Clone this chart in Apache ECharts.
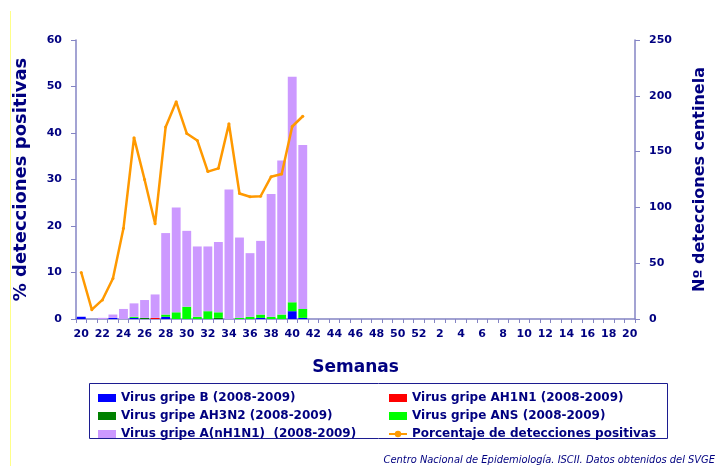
<!DOCTYPE html>
<html>
<head>
<meta charset="utf-8">
<script src="https://cdn.jsdelivr.net/npm/echarts@6/dist/echarts.min.js"></script>
<style>
  html, body { margin: 0; padding: 0; background: #fff; }
  #chart { width: 716px; height: 466px; }
</style>
</head>
<body>
<div id="chart"></div>
<script>
// semanas 20 (2009) .. 20 (2010)
var weeks = ['20','21','22','23','24','25','26','27','28','29','30','31','32','33','34','35','36','37','38','39','40',
  '41','42','43','44','45','46','47','48','49','50','51','52',
  '1','2','3','4','5','6','7','8','9','10','11','12','13','14','15','16','17','18','19','20'];

// nº detecciones centinela, semanas 20..41
var virusB     = [2,0,0,1,0,1,0,0,2,0,0,0,0,0,0,0,0,1,0,0,7,1];
var virusAH1N1 = [0,0,0,0,0,0,0,1,0,0,0,0,0,0,0,0,0,0,0,0,0,0];
var virusAH3N2 = [0,0,0,0,0,0,1,0,0,0,0,0,0,1,0,0,0,0,0,0,0,0];
var virusANS   = [0,0,0,0,0,1,0,0,2,6,11,2,7,5,0,1,2,3,2,4,8,8];
var virusNH1N1 = [0,0,1,3,9,12,16,21,73,94,68,63,58,63,116,72,57,66,110,138,202,147];
// % detecciones positivas
var porcentaje = [10,2,4.1,8.7,19.5,39,30,20.5,41.3,46.7,39.9,38.4,31.7,32.4,42,27,26.3,26.4,30.6,31.2,41.4,43.6];

var navy = '#000080';
var axisCol = '#8484c4';
var font = 'DejaVu Sans';

var chart = echarts.init(document.getElementById('chart'), null, { renderer: 'canvas' });

function barSerie(name, color, data) {
  return {
    name: name,
    type: 'bar',
    stack: 'total',
    yAxisIndex: 1,
    barCategoryGap: '16%',
    itemStyle: { color: color },
    emphasis: { disabled: true },
    data: data
  };
}

var legendText = { color: navy, fontFamily: font, fontWeight: 'bold', fontSize: 12, lineHeight: 14 };

var option = {
  backgroundColor: '#fff',
  animation: false,
  grid: { left: 76, right: 73, top: 40, bottom: 147 },
  legend: [
    {
      orient: 'vertical', left: 93, top: 386,
      itemWidth: 18, itemHeight: 8, itemGap: 4,
      textStyle: legendText,
      data: [
        { name: 'Virus gripe B (2008-2009)', icon: 'rect' },
        { name: 'Virus gripe AH3N2 (2008-2009)', icon: 'rect' },
        { name: 'Virus gripe A(nH1N1)  (2008-2009)', icon: 'rect' }
      ]
    },
    {
      orient: 'vertical', left: 383, top: 386,
      itemWidth: 18, itemHeight: 8, itemGap: 4,
      textStyle: legendText,
      data: [
        { name: 'Virus gripe AH1N1 (2008-2009)', icon: 'rect' },
        { name: 'Virus gripe ANS (2008-2009)', icon: 'rect' },
        { name: 'Porcentaje de detecciones positivas' }
      ]
    }
  ],
  xAxis: {
    type: 'category',
    data: weeks,
    boundaryGap: true,
    name: 'Semanas',
    nameLocation: 'middle',
    nameGap: 40,
    nameTextStyle: { color: navy, fontFamily: font, fontWeight: 'bold', fontSize: 17 },
    axisLine: { lineStyle: { color: axisCol, width: 1.5 } },
    axisTick: { show: true, interval: 0, length: 4, lineStyle: { color: axisCol } },
    axisLabel: { interval: 1, color: navy, fontFamily: font, fontWeight: 'bold', fontSize: 11, margin: 10 },
    splitLine: { show: false }
  },
  yAxis: [
    {
      type: 'value',
      min: 0, max: 60, interval: 10,
      name: '% detecciones positivas',
      nameLocation: 'middle',
      nameGap: 46,
      nameTextStyle: { color: navy, fontFamily: font, fontWeight: 'bold', fontSize: 18 },
      axisLine: { show: true, lineStyle: { color: axisCol, width: 1.5 } },
      axisTick: { show: true, length: 5, lineStyle: { color: axisCol } },
      axisLabel: { color: navy, fontFamily: font, fontWeight: 'bold', fontSize: 11, margin: 14 },
      splitLine: { show: false }
    },
    {
      type: 'value',
      min: 0, max: 250, interval: 50,
      position: 'right',
      name: 'Nº detecciones centinela',
      nameLocation: 'middle',
      nameGap: 57,
      nameRotate: 90,
      nameTextStyle: { color: navy, fontFamily: font, fontWeight: 'bold', fontSize: 16 },
      axisLine: { show: true, lineStyle: { color: axisCol, width: 1.5 } },
      axisTick: { show: true, length: 5, lineStyle: { color: axisCol } },
      axisLabel: { color: navy, fontFamily: font, fontWeight: 'bold', fontSize: 11, margin: 14 },
      splitLine: { show: false }
    }
  ],
  graphic: [
    {
      type: 'line', silent: true,
      shape: { x1: 10.5, y1: 11, x2: 10.5, y2: 466 },
      style: { stroke: '#ffff88', lineWidth: 1 }
    },
    {
      type: 'rect', silent: true, z: -1,
      shape: { x: 89.5, y: 383.5, width: 578, height: 55 },
      style: { fill: 'none', stroke: '#1c1c90', lineWidth: 1 }
    },
    {
      type: 'text', silent: true,
      right: 1, top: 455,
      style: {
        text: 'Centro Nacional de Epidemiología. ISCII. Datos obtenidos del SVGE',
        fill: navy,
        font: 'italic 11px "DejaVu Sans Condensed", "Liberation Sans Narrow", sans-serif'
      }
    }
  ],
  series: [
    barSerie('Virus gripe B (2008-2009)', '#0000ff', virusB),
    barSerie('Virus gripe AH1N1 (2008-2009)', '#ff0000', virusAH1N1),
    barSerie('Virus gripe AH3N2 (2008-2009)', '#008000', virusAH3N2),
    barSerie('Virus gripe ANS (2008-2009)', '#00ff00', virusANS),
    barSerie('Virus gripe A(nH1N1)  (2008-2009)', '#cc99ff', virusNH1N1),
    {
      name: 'Porcentaje de detecciones positivas',
      type: 'line',
      yAxisIndex: 0,
      symbol: 'circle',
      symbolSize: 3,
      showSymbol: true,
      lineStyle: { color: '#ff9900', width: 2.5 },
      itemStyle: { color: '#ff9900' },
      emphasis: { disabled: true },
      z: 5,
      data: porcentaje
    }
  ]
};

chart.setOption(option);
</script>
</body>
</html>
